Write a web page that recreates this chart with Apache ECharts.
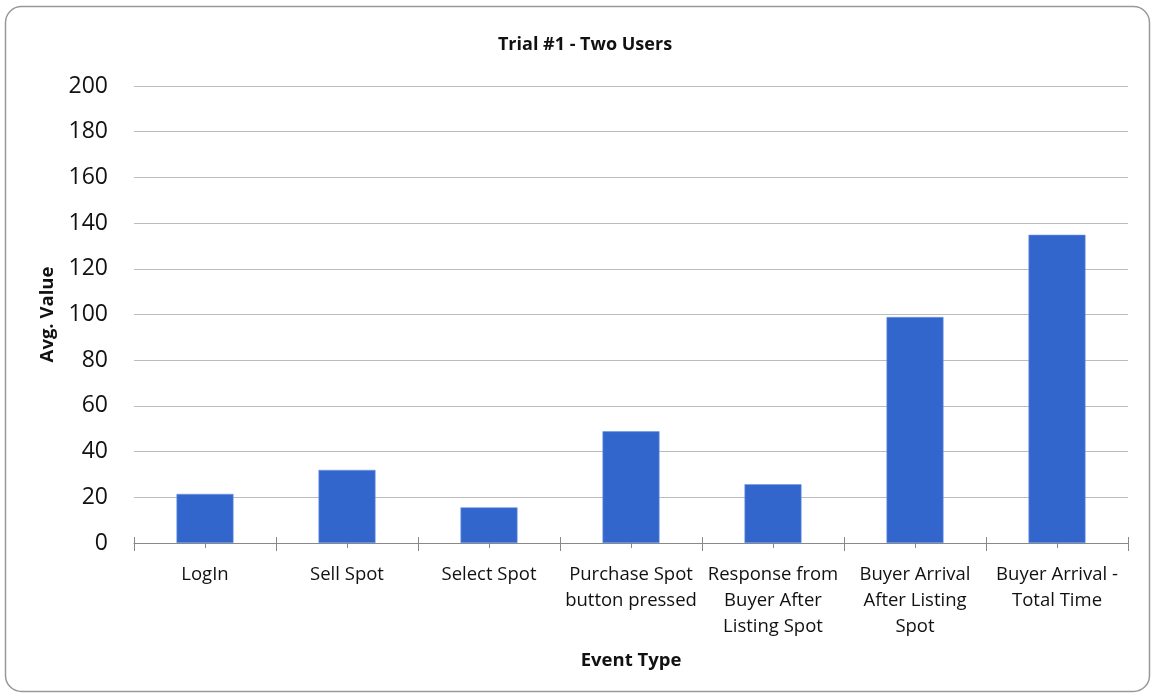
<!DOCTYPE html>
<html>
<head>
<meta charset="utf-8">
<script src="https://cdn.jsdelivr.net/npm/echarts@6/dist/echarts.min.js"></script>
<style>
  html, body { margin: 0; padding: 0; background: #fff; }
  #main { width: 1155px; height: 698px; }
</style>
</head>
<body>
<div id="main"></div>
<script>
const categories = [
    'LogIn',
    'Sell Spot',
    'Select Spot',
    'Purchase Spot\nbutton pressed',
    'Response from\nBuyer After\nListing Spot',
    'Buyer Arrival\nAfter Listing\nSpot',
    'Buyer Arrival -\nTotal Time'
]
const avgValues = [21.5, 32, 15.6, 48.9, 25.7, 98.9, 134.9]

const FONT = 'Open Sans'

const chart = echarts.init(document.getElementById('main'))

// extra category axes only to draw the crossing tick marks
function tickAxis(inside, length, align) {
    return {
        type: 'category',
        data: categories,
        position: 'bottom',
        axisLine: { show: false },
        axisLabel: { show: false },
        axisTick: { show: true, inside, length, alignWithLabel: align, lineStyle: { color: '#888' } }
    }
}

const option = {
    animation: false,
    graphic: [{
        type: 'rect',
        shape: { x: 5.5, y: 6.5, width: 1144, height: 685, r: 16 },
        style: { fill: 'none', stroke: '#999', lineWidth: 1.5 },
        silent: true
    }],
    title: {
        text: 'Trial #1 - Two Users',
        left: 580,
        top: 31,
        textAlign: 'center',
        textStyle: { fontFamily: FONT, fontSize: 18, fontWeight: 'bold', color: '#111' }
    },
    grid: { left: 134, right: 27, top: 86, bottom: 155 },
    xAxis: [
        {
            type: 'category',
            data: categories,
            name: 'Event Type',
            nameLocation: 'middle',
            nameGap: 108,
            nameTextStyle: { fontFamily: FONT, fontSize: 18.5, fontWeight: 'bold', color: '#111' },
            axisLine: { lineStyle: { color: '#888', width: 1.2 } },
            axisTick: { show: true, length: 8, lineStyle: { color: '#888' } },
            axisLabel: {
                interval: 0,
                margin: 19,
                fontFamily: FONT,
                fontSize: 18.5,
                lineHeight: 26,
                color: '#111'
            }
        },
        tickAxis(true, 6, false),
        tickAxis(true, 5, true),
        tickAxis(false, 5, true)
    ],
    yAxis: {
        type: 'value',
        min: 0,
        max: 200,
        interval: 20,
        name: 'Avg. Value',
        nameLocation: 'middle',
        nameGap: 75,
        nameTextStyle: { fontFamily: FONT, fontSize: 18.5, fontWeight: 'bold', color: '#111' },
        axisLine: { show: false },
        axisTick: { show: false },
        axisLabel: { margin: 26, fontFamily: FONT, fontSize: 23, color: '#111' },
        splitLine: { lineStyle: { color: '#bcbcbc', width: 1 } }
    },
    series: [{
        type: 'bar',
        data: avgValues,
        xAxisIndex: 0,
        barWidth: 57,
        itemStyle: { color: '#3366cc', borderColor: '#6f95e0', borderWidth: 0.6 }
    }]
}

chart.setOption(option)
</script>
</body>
</html>
